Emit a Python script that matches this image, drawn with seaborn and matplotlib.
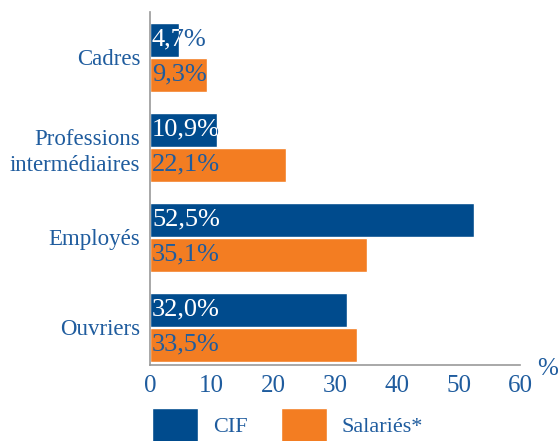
import matplotlib
matplotlib.use("Agg")
import matplotlib.pyplot as plt
import seaborn as sns
import pandas as pd
from matplotlib.patches import Patch

# Données
categories = ["Cadres", "Professions\nintermédiaires", "Employés", "Ouvriers"]
cif = [4.7, 10.9, 52.5, 32.0]
salaries = [9.3, 22.1, 35.1, 33.5]
series = ["CIF", "Salariés*"]
xticks = [0, 10, 20, 30, 40, 50, 60]

bleu = "#004b8d"
orange = "#f37d22"
texte = "#1f5c9e"

df = pd.DataFrame({
    "cat": categories * 2,
    "val": cif + salaries,
    "serie": [series[0]] * 4 + [series[1]] * 4,
})

sns.set_style("white")
plt.rcParams["font.family"] = ["Liberation Serif", "DejaVu Serif"]

fig = plt.figure(figsize=(5.6, 4.41), dpi=100)
ax = fig.add_axes([0.268, 0.172, 0.661, 0.80])
sns.barplot(data=df, y="cat", x="val", hue="serie", palette=[bleu, orange],
            saturation=1, orient="h", width=0.78, gap=0.04, ax=ax, legend=False)

ax.set_xlim(0, 60)
ax.set_ylim(3.42, -0.5)
ax.set_xticks(xticks)
ax.set_xticklabels([str(t) for t in xticks])
ax.set_xlabel("")
ax.set_ylabel("")
ax.tick_params(axis="x", direction="in", length=8, color="#999999",
               labelsize=18, labelcolor=texte, pad=7)
ax.tick_params(axis="y", length=0, labelsize=16.5, labelcolor=texte, pad=7)
for lab in ax.get_yticklabels():
    lab.set_horizontalalignment("right")
    lab.set_multialignment("right")
    lab.set_linespacing(1.3)
for s in ["top", "right"]:
    ax.spines[s].set_visible(False)
for s in ["left", "bottom"]:
    ax.spines[s].set_color("#999999")
    ax.spines[s].set_linewidth(1.2)

ax.text(1.045, -0.01, "%", transform=ax.transAxes, fontsize=18, color=texte,
        ha="left", va="center")

# Étiquettes de valeurs
for cont, vals, col in zip(ax.containers, [cif, salaries], ["white", texte]):
    for bar, v in zip(cont, vals):
        y = bar.get_y() + bar.get_height() / 2
        lab = f"{v:.1f}%".replace(".", ",")
        if col == "white":
            ax.text(0.3, y, lab, color=texte, fontsize=19, va="center", ha="left")
            t = ax.text(0.3, y, lab, color="white", fontsize=19, va="center", ha="left")
            t.set_clip_on(True)
            t.set_clip_path(bar)
        else:
            ax.text(0.3, y, lab, color=col, fontsize=19, va="center", ha="left")

handles = [Patch(facecolor=bleu, label=series[0]), Patch(facecolor=orange, label=series[1])]
fig.legend(handles=handles, loc="upper left", bbox_to_anchor=(0.271, 0.075),
           ncol=2, frameon=False, fontsize=16, labelcolor=texte,
           handlelength=2.07, handleheight=2.0, handletextpad=0.68,
           columnspacing=1.5, borderpad=0, borderaxespad=0)

fig.savefig("out.png", dpi=100)
